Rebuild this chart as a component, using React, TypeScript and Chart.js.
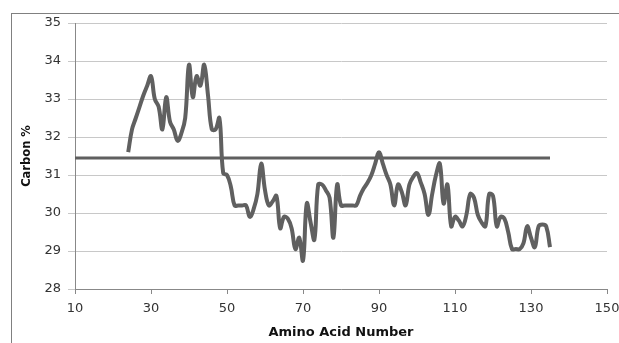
import React, { useEffect, useRef } from "react";
import { Chart, registerables } from "chart.js";

Chart.register(...registerables);

const aminoAcidNumbers = [
  24, 25, 26, 27, 28, 29, 30, 31, 32, 33,
  34, 35, 36, 37, 38, 39, 40, 41, 42, 43,
  44, 45, 46, 47, 48, 49, 50, 51, 52, 53,
  54, 55, 56, 57, 58, 59, 60, 61, 62, 63,
  64, 65, 66, 67, 68, 69, 70, 71, 72, 73,
  74, 75, 76, 77, 78, 79, 80, 81, 82, 83,
  84, 85, 86, 87, 88, 89, 90, 91, 92, 93,
  94, 95, 96, 97, 98, 99, 100, 101, 102, 103,
  104, 105, 106, 107, 108, 109, 110, 111, 112, 113,
  114, 115, 116, 117, 118, 119, 120, 121, 122, 123,
  124, 125, 126, 127, 128, 129, 130, 131, 132, 133,
  134, 135,
];

const carbonPercent = [
  31.6, 32.2, 32.5, 32.8, 33.1, 33.35, 33.6, 33.0, 32.8, 32.2,
  33.05, 32.4, 32.2, 31.9, 32.1, 32.5, 33.9, 33.05, 33.6, 33.35,
  33.9, 33.1, 32.2, 32.2, 32.5, 31.05, 31.0, 30.7, 30.2, 30.2,
  30.2, 30.2, 29.9, 30.1, 30.5, 31.3, 30.6, 30.2, 30.3, 30.45,
  29.6, 29.9, 29.85, 29.6, 29.05, 29.35, 28.75, 30.25, 29.75, 29.3,
  30.75, 30.75, 30.6, 30.4, 29.35, 30.75, 30.2, 30.2, 30.2, 30.2,
  30.2, 30.45, 30.65, 30.8, 31.0, 31.3, 31.6, 31.3, 31.0, 30.75,
  30.2, 30.75, 30.55, 30.2, 30.75, 30.95, 31.05, 30.8, 30.5, 29.95,
  30.5, 31.0, 31.3, 30.25, 30.75, 29.65, 29.9, 29.8, 29.65, 29.95,
  30.5, 30.4, 29.95, 29.75, 29.65, 30.5, 30.45, 29.65, 29.9, 29.85,
  29.5, 29.05, 29.05, 29.05, 29.2, 29.65, 29.35, 29.1, 29.65, 29.7,
  29.65, 29.1,
];

const averageLineX = [10, 135];
const averageLineY = [31.45, 31.45];

const xTickValues = [10, 30, 50, 70, 90, 110, 130, 150];
const yTickValues = [28, 29, 30, 31, 32, 33, 34, 35];

const FONT = "'DejaVu Sans', Verdana, sans-serif";

export default function App() {
  const canvasRef = useRef<HTMLCanvasElement | null>(null);

  useEffect(() => {
    const canvas = canvasRef.current;
    if (!canvas) return;

    const mainData = aminoAcidNumbers.map((x, i) => ({ x, y: carbonPercent[i] }));
    const avgData = averageLineX.map((x, i) => ({ x, y: averageLineY[i] }));

    const chart = new Chart(canvas, {
      type: "line",
      data: {
        datasets: [
          {
            label: "Carbon %",
            data: mainData,
            borderColor: "#606060",
            borderWidth: 4,
            pointRadius: 0,
            tension: 0.4,
            fill: false,
          },
          {
            label: "Average",
            data: avgData,
            borderColor: "#5f5f5f",
            borderWidth: 3,
            pointRadius: 0,
            tension: 0,
            fill: false,
          },
        ],
      },
      options: {
        animation: false,
        responsive: false,
        maintainAspectRatio: false,
        layout: { padding: { left: 0, top: 23, right: 12, bottom: 0 } },
        plugins: {
          legend: { display: false },
          tooltip: { enabled: false },
        },
        scales: {
          x: {
            type: "linear",
            min: 10,
            max: 150,
            afterBuildTicks: (scale: any) => {
              scale.ticks = xTickValues.map((v) => ({ value: v }));
            },
            afterFit: (scale: any) => {
              scale.height = 54;
              scale.paddingLeft = 0;
              scale.paddingRight = 0;
            },
            grid: {
              drawOnChartArea: false,
              drawTicks: true,
              tickLength: 5,
              color: "#888888",
            },
            border: { color: "#888888", width: 1 },
            ticks: {
              color: "#333333",
              padding: 7,
              font: { family: FONT, size: 13 },
              maxRotation: 0,
            },
            title: {
              display: true,
              text: "Amino Acid Number",
              color: "#111111",
              font: { family: FONT, size: 13, weight: "bold" },
              padding: { top: 0, bottom: 3 },
            },
          },
          y: {
            type: "linear",
            min: 28,
            max: 35,
            afterBuildTicks: (scale: any) => {
              scale.ticks = yTickValues.map((v) => ({ value: v }));
            },
            afterFit: (scale: any) => {
              scale.width = 75;
              scale.paddingTop = 0;
              scale.paddingBottom = 0;
            },
            grid: {
              drawOnChartArea: true,
              drawTicks: true,
              tickLength: 7,
              color: "#c8c8c8",
            },
            border: { color: "#888888", width: 1 },
            ticks: {
              color: "#333333",
              padding: 7,
              font: { family: FONT, size: 13 },
            },
            title: {
              display: true,
              text: "Carbon %",
              color: "#111111",
              font: { family: FONT, size: 11.5, weight: "bold" },
              padding: { top: 20, bottom: 0 },
            },
          },
        },
      },
    });

    return () => chart.destroy();
  }, []);

  return (
    <div
      style={{
        position: "fixed",
        left: 0,
        top: 0,
        width: 619,
        height: 343,
        background: "#ffffff",
        overflow: "hidden",
      }}
    >
      <div
        style={{
          position: "absolute",
          left: 11,
          top: 13,
          width: 700,
          height: 400,
          borderLeft: "1.5px solid #808080",
          borderTop: "1.5px solid #808080",
        }}
      />
      <canvas
        ref={canvasRef}
        width={619}
        height={343}
        style={{ position: "absolute", left: 0, top: 0, width: 619, height: 343 }}
      />
    </div>
  );
}
